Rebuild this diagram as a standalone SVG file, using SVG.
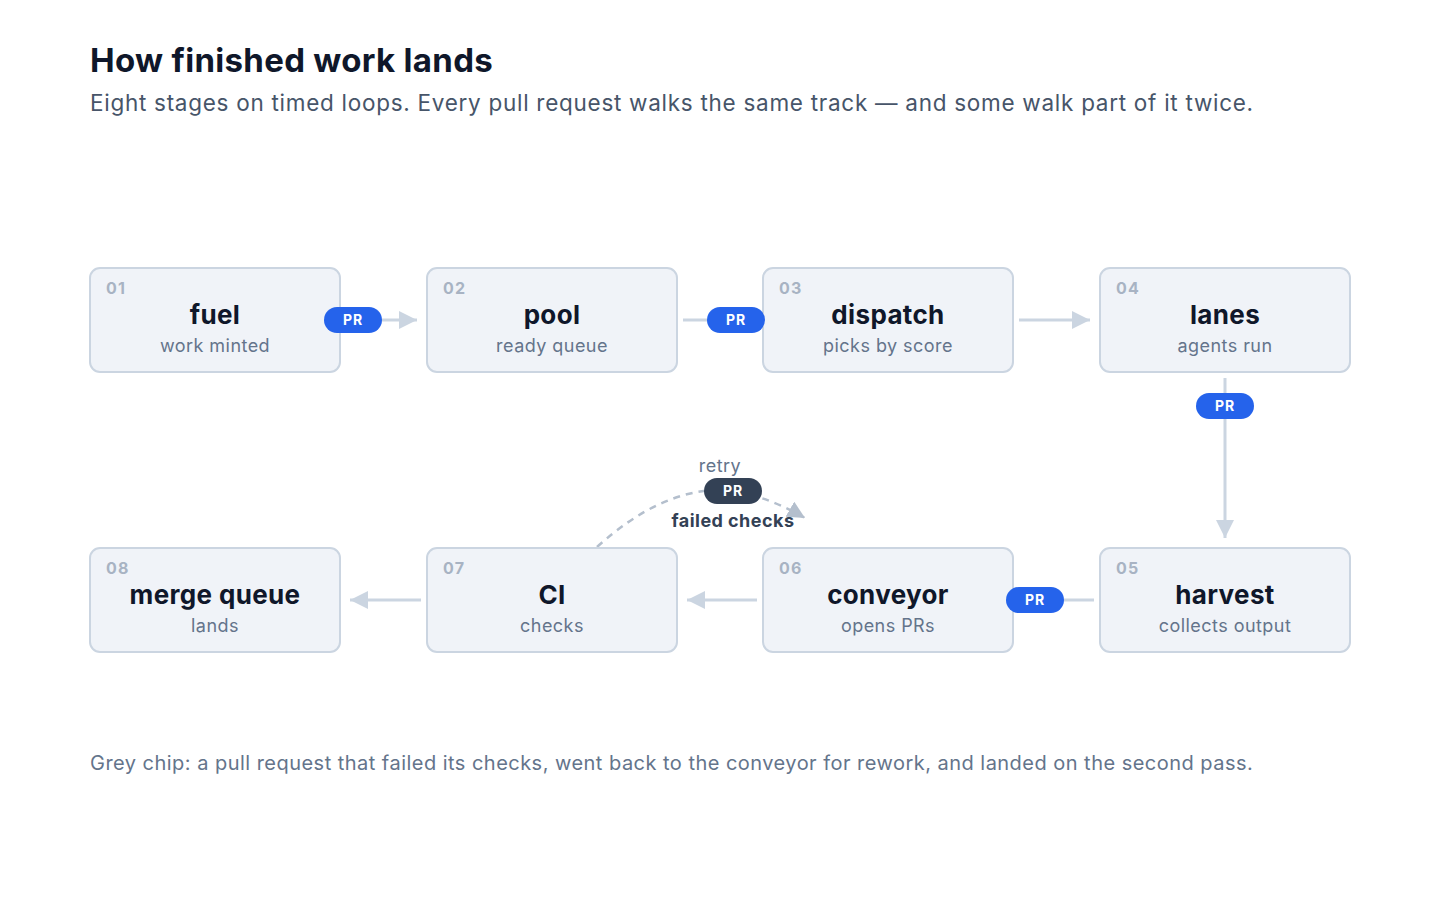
<svg xmlns="http://www.w3.org/2000/svg" width="1440" height="900" viewBox="0 0 1440 900">
<defs>
<style>
text{font-family:Inter,"Noto Sans","Liberation Sans",sans-serif}
.title{font-size:33px;font-weight:700;fill:#0f172a;letter-spacing:0.3px}
.sub{font-size:22.5px;fill:#475569;letter-spacing:0.72px}
.foot{font-size:20px;fill:#64748b;letter-spacing:0.47px}
.box{fill:#f0f3f8;stroke:#cbd5e1;stroke-width:2}
.num{font-size:16px;font-weight:700;fill:#a8b3c3;letter-spacing:1.2px}
.name{font-size:26px;font-weight:700;fill:#0f172a;text-anchor:middle;letter-spacing:0.35px}
.desc{font-size:18px;fill:#64748b;text-anchor:middle;letter-spacing:0.45px}
.edge{stroke:#cbd5e1;stroke-width:3;fill:none}
.chip{fill:#2563eb}
.chipd{fill:#334155}
.chipt{font-size:14px;font-weight:700;fill:#fff;text-anchor:middle;letter-spacing:0.8px}
</style>
<marker id="ah" viewBox="0 0 10 10" refX="10" refY="5" markerWidth="6" markerHeight="6" markerUnits="strokeWidth" orient="auto">
<path d="M0,0 L10,5 L0,10 z" fill="#cbd5e1"/>
</marker>
<marker id="ahd" viewBox="0 0 10 10" refX="10" refY="5" markerWidth="7" markerHeight="7" markerUnits="strokeWidth" orient="auto">
<path d="M0,0 L10,5 L0,10 z" fill="#b4bfcd"/>
</marker>
</defs>
<rect width="1440" height="900" fill="#ffffff"/>
<text class="title" x="90" y="72">How finished work lands</text>
<text class="sub" x="90" y="111">Eight stages on timed loops. Every pull request walks the same track — and some walk part of it twice.</text>

<g id="connectors">
<line class="edge" x1="346" y1="320" x2="417" y2="320" marker-end="url(#ah)"/>
<line class="edge" x1="683" y1="320" x2="753" y2="320" marker-end="url(#ah)"/>
<line class="edge" x1="1019" y1="320" x2="1090" y2="320" marker-end="url(#ah)"/>
<line class="edge" x1="1225" y1="378" x2="1225" y2="538" marker-end="url(#ah)"/>
<line class="edge" x1="1094" y1="600" x2="1023" y2="600" marker-end="url(#ah)"/>
<line class="edge" x1="757" y1="600" x2="687" y2="600" marker-end="url(#ah)"/>
<line class="edge" x1="421" y1="600" x2="350" y2="600" marker-end="url(#ah)"/>
<path d="M597,547 Q660,490 720,490 Q760,492 805,518" fill="none" stroke="#b4bfcd" stroke-width="2.5" stroke-dasharray="7,6" marker-end="url(#ahd)"/>
</g>

<g id="node-01"><rect class="box" x="90" y="268" width="250" height="104" rx="10"/><text class="num" x="106" y="294">01</text><text class="name" x="215" y="324">fuel</text><text class="desc" x="215" y="352">work minted</text></g>
<g id="node-02"><rect class="box" x="427" y="268" width="250" height="104" rx="10"/><text class="num" x="443" y="294">02</text><text class="name" x="552" y="324">pool</text><text class="desc" x="552" y="352">ready queue</text></g>
<g id="node-03"><rect class="box" x="763" y="268" width="250" height="104" rx="10"/><text class="num" x="779" y="294">03</text><text class="name" x="888" y="324">dispatch</text><text class="desc" x="888" y="352">picks by score</text></g>
<g id="node-04"><rect class="box" x="1100" y="268" width="250" height="104" rx="10"/><text class="num" x="1116" y="294">04</text><text class="name" x="1225" y="324">lanes</text><text class="desc" x="1225" y="352">agents run</text></g>
<g id="node-05"><rect class="box" x="1100" y="548" width="250" height="104" rx="10"/><text class="num" x="1116" y="574">05</text><text class="name" x="1225" y="604">harvest</text><text class="desc" x="1225" y="632">collects output</text></g>
<g id="node-06"><rect class="box" x="763" y="548" width="250" height="104" rx="10"/><text class="num" x="779" y="574">06</text><text class="name" x="888" y="604">conveyor</text><text class="desc" x="888" y="632">opens PRs</text></g>
<g id="node-07"><rect class="box" x="427" y="548" width="250" height="104" rx="10"/><text class="num" x="443" y="574">07</text><text class="name" x="552" y="604">CI</text><text class="desc" x="552" y="632">checks</text></g>
<g id="node-08"><rect class="box" x="90" y="548" width="250" height="104" rx="10"/><text class="num" x="106" y="574">08</text><text class="name" x="215" y="604">merge queue</text><text class="desc" x="215" y="632">lands</text></g>

<g id="chips">
<g><rect class="chip" x="324" y="307" width="58" height="26" rx="13"/><text class="chipt" x="353" y="325">PR</text></g>
<g><rect class="chip" x="707" y="307" width="58" height="26" rx="13"/><text class="chipt" x="736" y="325">PR</text></g>
<g><rect class="chip" x="1196" y="393" width="58" height="26" rx="13"/><text class="chipt" x="1225" y="411">PR</text></g>
<g><rect class="chip" x="1006" y="587" width="58" height="26" rx="13"/><text class="chipt" x="1035" y="605">PR</text></g>
<g id="retry"><text x="720" y="472" font-size="18" fill="#64748b" text-anchor="middle" letter-spacing="0.45">retry</text><rect class="chipd" x="704" y="478" width="58" height="26" rx="13"/><text class="chipt" x="733" y="496">PR</text><text x="733" y="527" font-size="18" font-weight="700" fill="#334155" text-anchor="middle" letter-spacing="0.45">failed checks</text></g>
</g>

<text class="foot" x="90" y="770">Grey chip: a pull request that failed its checks, went back to the conveyor for rework, and landed on the second pass.</text>
</svg>
